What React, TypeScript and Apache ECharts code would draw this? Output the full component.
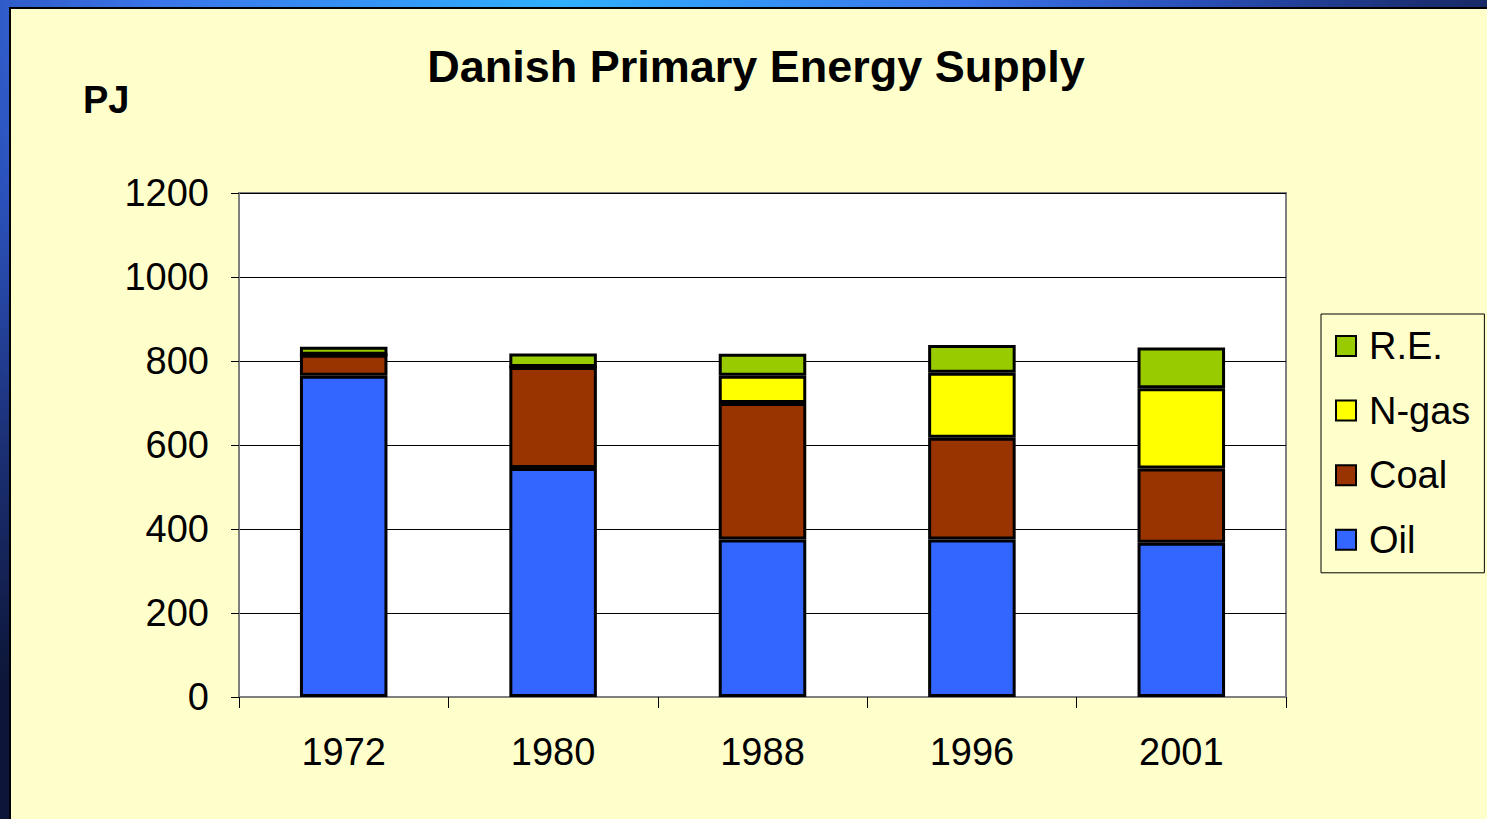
import React, { useEffect, useRef } from "react";
import * as echarts from "echarts";

const years = ["1972", "1980", "1988", "1996", "2001"];
const oil = [765, 545, 375, 375, 367];
const coal = [50, 241, 325, 242, 177];
const ngas = [0, 0, 65, 155, 191];
const re = [19, 32, 52, 66, 97];
const yTicks = { min: 0, max: 1200, interval: 200 };
const titleText = "Danish Primary Energy Supply";
const unitText = "PJ";

const FONT = "'Liberation Sans', Arial, sans-serif";

export default function App() {
  const ref = useRef<HTMLDivElement>(null);
  useEffect(() => {
    if (!ref.current) return;
    const chart = echarts.init(ref.current, null, { renderer: "svg" });
    const mk = (name: string, data: number[], color: string) => ({
      name,
      type: "bar",
      stack: "total",
      data,
      barWidth: "41.8%",
      itemStyle: { color, borderColor: "#000", borderWidth: 3 },
    });
    chart.setOption({
      animation: false,
      textStyle: { fontFamily: FONT },
      grid: {
        left: 239,
        top: 193,
        right: 201,
        bottom: 122,
        show: true,
        backgroundColor: "#ffffff",
        borderColor: "#808080",
        borderWidth: 2,
      },
      graphic: [
        {
          type: "text",
          x: 756,
          y: 66,
          style: {
            text: titleText,
            font: `bold 45px ${FONT}`,
            fill: "#000",
            textAlign: "center",
            textVerticalAlign: "middle",
          },
        },
        {
          type: "text",
          x: 83,
          y: 100,
          style: {
            text: unitText,
            font: `bold 38px ${FONT}`,
            fill: "#000",
            textAlign: "left",
            textVerticalAlign: "middle",
          },
        },
      ],
      legend: {
        orient: "vertical",
        left: 1321,
        top: 314,
        data: ["R.E.", "N-gas", "Coal", "Oil"],
        backgroundColor: "#FFFFCC",
        borderColor: "#000",
        borderWidth: 1,
        padding: [12, 14, 13, 14],
        itemWidth: 20,
        itemHeight: 20,
        itemGap: 24.6,
        icon: "rect",
        itemStyle: { borderColor: "#000", borderWidth: 2 },
        textStyle: {
          fontSize: 38,
          color: "#000",
          fontFamily: FONT,
          lineHeight: 40,
          padding: [0, 0, 0, 8],
        },
      },
      xAxis: {
        type: "category",
        data: years,
        axisLine: { lineStyle: { color: "#808080", width: 2 } },
        axisTick: { show: true, length: 11, lineStyle: { color: "#000", width: 1 } },
        axisLabel: { fontSize: 38, color: "#000", margin: 36, fontFamily: FONT },
        splitLine: { show: false },
      },
      yAxis: {
        type: "value",
        min: yTicks.min,
        max: yTicks.max,
        interval: yTicks.interval,
        axisLine: { show: true, lineStyle: { color: "#808080", width: 2 } },
        axisTick: { show: true, length: 8, lineStyle: { color: "#000", width: 1 } },
        axisLabel: {
          fontSize: 38,
          color: "#000",
          margin: 30,
          fontFamily: FONT,
          formatter: (v: number) => String(v),
        },
        splitLine: { show: true, lineStyle: { color: "#000", width: 1 } },
      },
      series: [
        mk("Oil", oil, "#3366FF"),
        mk("Coal", coal, "#993300"),
        mk("N-gas", ngas, "#FFFF00"),
        mk("R.E.", re, "#99CC00"),
      ],
    });
    return () => chart.dispose();
  }, []);

  return (
    <div
      style={{
        position: "fixed",
        left: 0,
        top: 0,
        width: 1487,
        height: 819,
        overflow: "hidden",
        background:
          "radial-gradient(ellipse 1150px 780px at 560px 0px, #2fb0ff 0%, #3a74ea 35%, #2a50b8 55%, #1b2f74 75%, #0d1638 100%)",
      }}
    >
      <div
        style={{
          position: "absolute",
          left: 9,
          top: 7,
          right: 0,
          bottom: 0,
          background: "#FFFFCC",
          borderLeft: "2px solid #000",
          borderTop: "2px solid #000",
        }}
      />
      <div ref={ref} style={{ position: "absolute", left: 0, top: 0, width: 1487, height: 819 }} />
    </div>
  );
}
